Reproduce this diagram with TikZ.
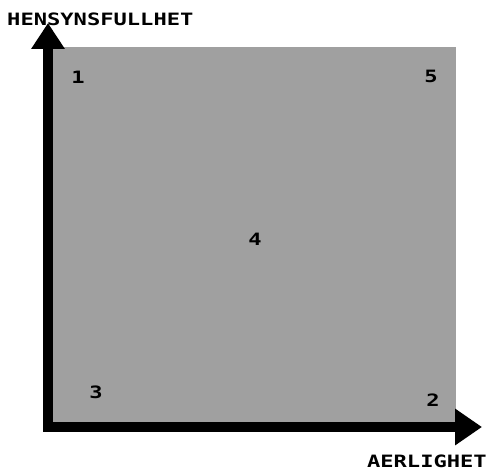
\documentclass[tikz,border=0pt]{standalone}
\usepackage{fontspec}
\usetikzlibrary{arrows.meta}
\newfontfamily\pixfont[FakeStretch=1.3]{DejaVu Sans Mono}
\definecolor{planefill}{RGB}{160,160,160}
\tikzset{
  every node/.style={font=\pixfont\bfseries\fontsize{17}{17}\selectfont, text=black, inner sep=0pt},
  plane/.style={fill=planefill, draw=none},
  axis/.style={line width=10pt, draw=black, line join=miter,
    {Triangle[length=26pt,width=32pt]}-{Triangle[length=27pt,width=35pt]}},
  axislabel/.style={font=\pixfont\bfseries\fontsize{17}{17}\selectfont},
  point/.style={font=\pixfont\bfseries\fontsize{17}{17}\selectfont},
}

\begin{document}
\begin{tikzpicture}[x=1pt,y=-1pt]
\useasboundingbox (0,0) rectangle (487,473);

% ---- Plane ---------------------------------------------------------------
\fill[plane] (43,47) rectangle (456,432);

% ---- Axes ----------------------------------------------------------------
\coordinate (origin) at (48,427);
\coordinate (ytip) at (48,23);
\coordinate (xtip) at (482,427);
\draw[axis] (ytip) -- (origin) -- (xtip);

\node[axislabel, anchor=west] (ylab) at (7,19) {HENSYNSFULLHET};
\node[axislabel, anchor=east] (xlab) at (487,461) {AERLIGHET};

% ---- Points --------------------------------------------------------------
\node[point] (p1) at (78,77) {1};
\node[point] (p2) at (433,400) {2};
\node[point] (p3) at (96,392) {3};
\node[point] (p4) at (255,239) {4};
\node[point] (p5) at (431,76) {5};

\end{tikzpicture}
\end{document}
